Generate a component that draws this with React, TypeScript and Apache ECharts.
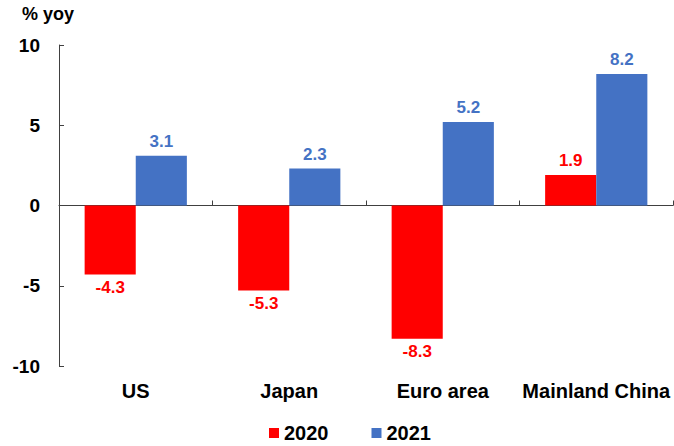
import React, { useEffect, useRef } from "react";
import * as echarts from "echarts";

const categories = ["US", "Japan", "Euro area", "Mainland China"];
const values2020 = [-4.3, -5.3, -8.3, 1.9];
const values2021 = [3.1, 2.3, 5.2, 8.2];
const seriesNames = ["2020", "2021"];
const yTicks = { min: -10, max: 10, interval: 5 };

const FONT = "'Liberation Sans', Arial, sans-serif";
const RED = "#FF0000";
const BLUE = "#4472C4";
const AXIS = "#404040";

function toData(vals: number[]) {
  return vals.map((v) => ({
    value: v,
    label: { position: v < 0 ? "bottom" : "top", distance: v < 0 ? 4 : 6 },
  }));
}

export default function App() {
  const ref = useRef<HTMLDivElement>(null);
  useEffect(() => {
    if (!ref.current) return;
    const chart = echarts.init(ref.current, null, { renderer: "svg" });
    const labelStyle = (color: string) => ({
      show: true,
      color,
      fontFamily: FONT,
      fontWeight: "bold",
      fontSize: 17,
      formatter: (p: any) => Number(p.value).toFixed(1),
    });
    chart.setOption({
      animation: false,
      textStyle: { fontFamily: FONT },
      grid: { left: 59, right: 1, top: 45, bottom: 80 },
      graphic: [
        {
          type: "text",
          left: 22,
          top: 5,
          style: {
            text: "% yoy",
            fontFamily: FONT,
            fontWeight: "bold",
            fontSize: 18,
            fill: "#000",
          },
        },
      ],
      legend: {
        data: seriesNames,
        top: 422,
        left: 269,
        padding: 0,
        itemWidth: 10,
        itemHeight: 10,
        itemGap: 43,
        icon: "rect",
        textStyle: {
          fontFamily: FONT,
          fontWeight: "bold",
          fontSize: 20,
          lineHeight: 22,
          color: "#000",
        },
      },
      xAxis: [
        {
          type: "category",
          data: categories,
          axisLine: { show: true, onZero: true, lineStyle: { color: AXIS, width: 1 } },
          axisTick: { show: true, inside: true, length: 5, lineStyle: { color: AXIS } },
          axisLabel: { show: false },
        },
        {
          type: "category",
          data: categories,
          position: "bottom",
          axisLine: { show: false, onZero: false },
          axisTick: { show: false },
          axisLabel: {
            interval: 0,
            margin: 15,
            color: "#000",
            fontFamily: FONT,
            fontWeight: "bold",
            fontSize: 20,
          },
        },
      ],
      yAxis: {
        type: "value",
        min: yTicks.min,
        max: yTicks.max,
        interval: yTicks.interval,
        axisLine: { show: true, onZero: false, lineStyle: { color: AXIS, width: 1 } },
        axisTick: { show: true, inside: true, length: 5, lineStyle: { color: AXIS } },
        splitLine: { show: false },
        axisLabel: {
          margin: 19,
          color: "#000",
          fontFamily: FONT,
          fontWeight: "bold",
          fontSize: 19,
        },
      },
      series: [
        {
          name: seriesNames[0],
          type: "bar",
          xAxisIndex: 0,
          data: toData(values2020),
          itemStyle: { color: RED },
          barGap: "0%",
          barCategoryGap: "33.4%",
          label: labelStyle(RED),
        },
        {
          name: seriesNames[1],
          type: "bar",
          xAxisIndex: 0,
          data: toData(values2021),
          itemStyle: { color: BLUE },
          barGap: "0%",
          barCategoryGap: "33.4%",
          label: labelStyle(BLUE),
        },
      ],
    });
    return () => chart.dispose();
  }, []);
  return (
    <div
      ref={ref}
      style={{ position: "absolute", left: 0, top: 0, width: 674, height: 446 }}
    />
  );
}
